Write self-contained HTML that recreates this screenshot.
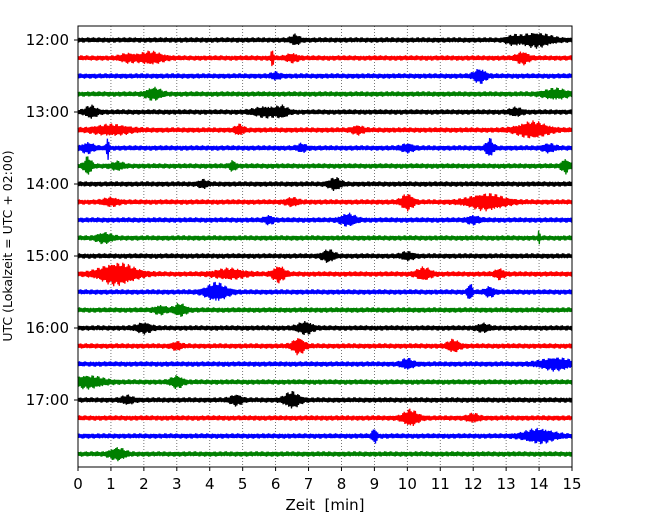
<!DOCTYPE html>
<html><head><meta charset="utf-8"><style>
body{margin:0;background:#fff;font-family:"Liberation Sans","DejaVu Sans",sans-serif}
svg text{font-family:"DejaVu Sans","Liberation Sans",sans-serif}
</style></head><body>
<svg id="chart" width="650" height="520" xmlns="http://www.w3.org/2000/svg">
<rect width="650" height="520" fill="#fff"/>
<g id="grid"></g><g id="traces"></g><g id="axes"></g>
<text x="325" y="510" font-size="15" text-anchor="middle">Zeit&#160; [min]</text>
<text transform="translate(12,246) rotate(-90)" font-size="12.5" text-anchor="middle">UTC (Lokalzeit = UTC + 02:00)</text>
</svg>
<script>
const rowLabels=["12:00","12:15","12:30","12:45","13:00","13:15","13:30","13:45","14:00","14:15","14:30","14:45","15:00","15:15","15:30","15:45","16:00","16:15","16:30","16:45","17:00","17:15","17:30","17:45"];
const yTickLabels=["12:00","13:00","14:00","15:00","16:00","17:00"];
const xTicks=[0,1,2,3,4,5,6,7,8,9,10,11,12,13,14,15];
const colors=["#000000","#ff0000","#0000ff","#008000"];
// events per row: [minute, amplitude(px half), duration(min)]
const events=[
[[6.6,4,0.3],[13.9,6,1.0],[13.2,3,0.4]],
[[2.2,5,0.8],[1.5,3,0.5],[5.9,7,0.1],[13.5,5,0.4],[6.5,3,0.4]],
[[12.2,6,0.4],[6,2.5,0.3]],
[[2.3,5,0.5],[14.5,4,0.8]],
[[0.4,5,0.4],[5.7,4,0.8],[6.2,4,0.4],[13.3,3,0.4]],
[[1,4,1.2],[4.9,4,0.3],[13.8,7,1.0],[8.5,3,0.4]],
[[0.9,12,0.08],[0.3,4,0.4],[12.5,8,0.25],[6.8,3,0.3],[14.3,3,0.4],[10,3,0.4]],
[[0.3,8,0.25],[4.7,4,0.2],[14.8,6,0.25],[1.2,3,0.4]],
[[7.8,5,0.4],[3.8,3,0.3]],
[[12.4,7,1.2],[10,7,0.4],[6.5,3,0.4],[1,3,0.5]],
[[8.2,5,0.5],[5.8,3,0.3],[12,3,0.4]],
[[0.8,4,0.5],[14,6,0.06]],
[[7.6,5,0.4],[10,3,0.4]],
[[1.2,10,1.2],[4.6,4,1.0],[6.1,7,0.4],[10.5,5,0.5],[12.8,4,0.3]],
[[4.2,8,0.7],[11.9,8,0.15],[12.5,4,0.3]],
[[3.1,5,0.4],[2.5,3,0.4]],
[[2,4,0.5],[6.9,5,0.5],[12.3,3,0.4]],
[[6.7,7,0.4],[11.4,5,0.4],[3,3,0.3]],
[[14.5,5,1.0],[10,4,0.4]],
[[0.3,5,1.0],[3,5,0.4]],
[[4.8,4,0.4],[6.5,7,0.5],[1.5,3,0.4]],
[[10.1,7,0.5],[12,3,0.4]],
[[9,7,0.15],[14,6,1.0]],
[[1.2,5,0.5]]
];
const NS="http://www.w3.org/2000/svg";
const X0=78,X1=572,Y0=26,Y1=467,ROW0=40,DY=18;
const xs=m=>X0+(X1-X0)*m/15;
const ys=i=>ROW0+DY*i;
function mk(t,a,p){const e=document.createElementNS(NS,t);for(const k in a)e.setAttribute(k,a[k]);p.appendChild(e);return e;}
const grid=document.getElementById('grid'),tr=document.getElementById('traces'),ax=document.getElementById('axes');
xTicks.forEach(m=>{
 if(m>0&&m<15){const l=mk('line',{x1:xs(m),x2:xs(m),y1:Y0,y2:Y1,stroke:'#555','stroke-width':0.8,'stroke-dasharray':'1,2'},grid);
 
 }
 const t=mk('line',{x1:xs(m),x2:xs(m),y1:Y1,y2:Y1+4,stroke:'#000'},ax);
 const tx=mk('text',{x:xs(m),y:Y1+22,'font-size':15,'text-anchor':'middle'},ax);tx.textContent=m;
 
 
});
rowLabels.forEach((lab,i)=>{
 const ev=events[i]||[];let d='';const y=ys(i);
 for(let px=0;px<=X1-X0;px+=0.7){
  const m=px/(X1-X0)*15;let a=2.7;
  ev.forEach(e=>{const z=(m-e[0])/(e[2]/2);a+=e[1]*Math.exp(-z*z);});
  const f=0.6+0.4*Math.abs(Math.sin(px*1.73+i*3.1)*Math.cos(px*0.61+i));
  const s=(Math.round(px/0.7)%2?1:-1)*a*f;
  d+=(px===0?'M':'L')+(X0+px).toFixed(1)+','+(y+s).toFixed(1);
 }
 const p=mk('path',{d:d,stroke:colors[i%4],'stroke-width':1.3,fill:'none'},tr);
 
 
});
yTickLabels.forEach((lab,k)=>{
 const y=ys(k*4);
 mk('line',{x1:X0-4,x2:X0,y1:y,y2:y,stroke:'#000'},ax);
 const t=mk('text',{x:X0-9,y:y+5,'font-size':15,'text-anchor':'end'},ax);t.textContent=lab;
 
 
});
const fr=mk('rect',{x:X0,y:Y0,width:X1-X0,height:Y1-Y0,fill:'none',stroke:'#000','stroke-width':1},ax);


</script>
</body></html>
